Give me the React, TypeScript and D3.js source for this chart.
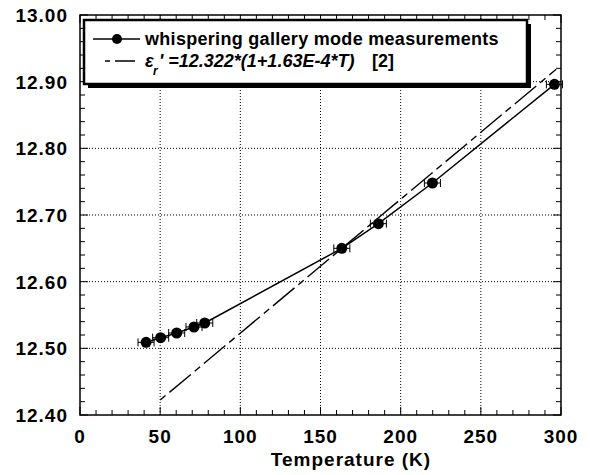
import * as React from "react";
import * as d3 from "d3";

// whispering gallery mode measurements (T in K, permittivity)
const tempK = [41.2, 50.3, 60.3, 71.1, 77.8, 163.3, 186.1, 219.8, 295.9];
const epsMeasured = [12.509, 12.516, 12.523, 12.532, 12.538, 12.65, 12.687, 12.748, 12.896];
const tempErr = [5, 5, 5, 5, 5, 5, 5, 5, 5];

// reference line [2], endpoints
const refT = [50, 297];
const refEps = [12.4224, 12.9185];

const xTicks = [0, 50, 100, 150, 200, 250, 300];
const yTicks = [12.4, 12.5, 12.6, 12.7, 12.8, 12.9, 13.0];

const W = 590;
const H = 475;
const font = "'Liberation Sans', Arial, sans-serif";

export default function App() {
  const x = d3.scaleLinear().domain([0, 300]).range([80, 561]);
  const y = d3.scaleLinear().domain([12.4, 13.0]).range([415, 15]);

  const pts = tempK.map((t, i) => [t, epsMeasured[i]] as [number, number]);
  const fitLine = d3
    .line<[number, number]>()
    .x((d) => x(d[0]))
    .y((d) => y(d[1]))(pts);
  const refLine = d3
    .line<number>()
    .x((d) => x(refT[d]))
    .y((d) => y(refEps[d]))(refT.map((_, i) => i));

  const xMinor = d3.range(0, 301, 10);
  const yMinor = d3.range(0, 31).map((i) => 12.4 + i * 0.02);
  const [x0, x1] = x.range();
  const [y0, y1] = y.range();

  return (
    <svg
      width={W}
      height={H}
      style={{ position: "absolute", left: 0, top: 0, background: "#fff" }}
      fontFamily={font}
    >
      {/* grid */}
      <g stroke="#000" strokeWidth={1} strokeDasharray="1,2">
        {xTicks.slice(1, -1).map((t) => (
          <line key={"gx" + t} x1={x(t)} x2={x(t)} y1={y1} y2={y0} />
        ))}
        {yTicks.slice(1, -1).map((t) => (
          <line key={"gy" + t} x1={x0} x2={x1} y1={y(t)} y2={y(t)} />
        ))}
      </g>

      {/* reference line */}
      <path d={refLine ?? ""} fill="none" stroke="#000" strokeWidth={1.4} strokeDasharray="7,5,28,5" />

      {/* fit line through measurements */}
      <path d={fitLine ?? ""} fill="none" stroke="#000" strokeWidth={1.5} />

      {/* measured points */}
      {pts.map((d, i) => {
        const cx = x(d[0]);
        const cy = y(d[1]);
        const xl = x(d[0] - tempErr[i]);
        const xr = x(d[0] + tempErr[i]);
        return (
          <g key={"p" + i} stroke="#000" strokeWidth={1}>
            <line x1={xl} x2={xr} y1={cy} y2={cy} />
            <line x1={xl} x2={xl} y1={cy - 4} y2={cy + 4} />
            <line x1={xr} x2={xr} y1={cy - 4} y2={cy + 4} />
            <circle cx={cx} cy={cy} r={5.5} fill="#000" stroke="none" />
          </g>
        );
      })}

      {/* frame and ticks */}
      <rect x={x0} y={y1} width={x1 - x0} height={y0 - y1} fill="none" stroke="#000" strokeWidth={1.5} />
      <g stroke="#000" strokeWidth={1}>
        {xMinor.map((t) => {
          const len = t % 50 === 0 ? 8 : 5;
          return (
            <g key={"xt" + t}>
              <line x1={x(t)} x2={x(t)} y1={y0} y2={y0 - len} />
              <line x1={x(t)} x2={x(t)} y1={y1} y2={y1 + len} />
            </g>
          );
        })}
        {yMinor.map((t, i) => {
          const len = i % 5 === 0 ? 8 : 5;
          return (
            <g key={"yt" + i}>
              <line x1={x0} x2={x0 + len} y1={y(t)} y2={y(t)} />
              <line x1={x1} x2={x1 - len} y1={y(t)} y2={y(t)} />
            </g>
          );
        })}
      </g>

      {/* tick labels */}
      <g fontSize={19} fontWeight="bold" fill="#000" letterSpacing={1}>
        {xTicks.map((t) => (
          <text key={"xl" + t} x={x(t)} y={443} textAnchor="middle">
            {t}
          </text>
        ))}
        {yTicks.map((t) => (
          <text key={"yl" + t} x={68} y={y(t) + 7} textAnchor="end">
            {t.toFixed(2)}
          </text>
        ))}
        <text x={351} y={466} textAnchor="middle">
          Temperature (K)
        </text>
      </g>

      {/* legend */}
      <rect x={88} y={24} width={443} height={64} fill="#000" />
      <rect x={84} y={20} width={443} height={64} fill="#fff" stroke="#000" strokeWidth={2.5} />
      <line x1={93} x2={140} y1={39} y2={39} stroke="#000" strokeWidth={1.5} />
      <circle cx={117} cy={39} r={5} fill="#000" />
      <text x={145} y={45} fontSize={18} fontWeight="bold" letterSpacing={0.3}>
        whispering gallery mode measurements
      </text>
      <line x1={105} x2={135} y1={61} y2={61} stroke="#000" strokeWidth={1.4} strokeDasharray="5,5,25" />
      <g fontSize={18} fontWeight="bold">
        <text x={145} y={67} fontStyle="italic">ε</text>
        <text x={153} y={75} fontSize={12} fontStyle="italic">r</text>
        <text x={159} y={67} fontStyle="italic">' =12.322*(1+1.63E-4*T)</text>
        <text x={372} y={67}>[2]</text>
      </g>
    </svg>
  );
}
